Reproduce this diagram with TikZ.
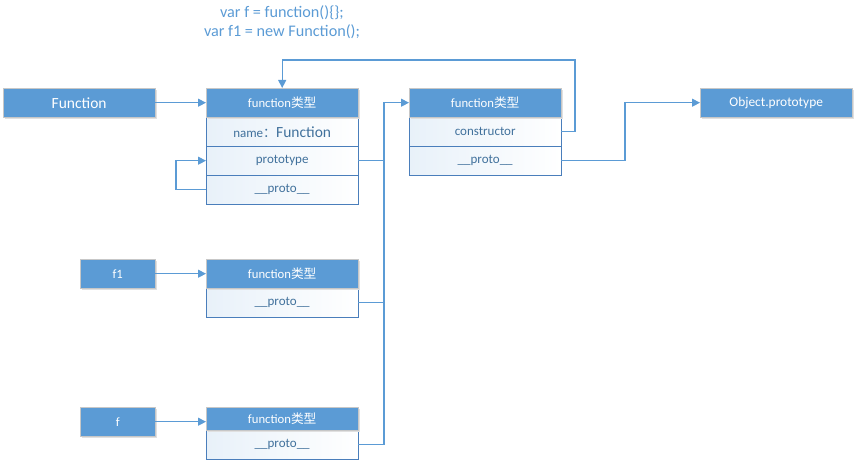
\documentclass[tikz,border=0pt]{standalone}
\usepackage{fontspec}
\setmainfont{Carlito}
\newfontfamily\cjk{Noto Sans CJK SC}
\usetikzlibrary{arrows.meta,shadows}
\definecolor{hdr}{HTML}{5B9BD5}
\definecolor{rowline}{HTML}{4A7EBB}
\definecolor{rowtext}{HTML}{41719C}
\newcommand\ftype{function{\cjk 类型}}
\begin{document}
\begin{tikzpicture}[x=1pt,y=-1pt,
  hbox/.style={draw=black!22, fill=hdr, text=white, minimum width=152pt, minimum height=29pt,
    inner sep=0pt, anchor=north west, font=\fontsize{12.7}{14}\selectfont,
    drop shadow={shadow xshift=1.5pt, shadow yshift=-1.5pt, fill=black!12, opacity=1}},
  lbox/.style={hbox, font=\fontsize{15.5}{17}\selectfont},
  rowbox/.style={draw=rowline, left color=hdr!14, right color=white, text=rowtext,
    minimum width=152pt, minimum height=29pt, inner sep=0pt, anchor=north west,
    font=\fontsize{13}{15}\selectfont},
  conn/.style={draw=hdr, line width=1.2pt, -{Triangle[length=8pt,width=8pt]}},
  plain/.style={draw=hdr, line width=1.2pt},
  code/.style={text=hdr, font=\fontsize{16.2}{18}\selectfont}]
\useasboundingbox (0,0) rectangle (859,465);

\node[code] (c1) at (282,13) {var f = function()\{\};};
\node[code] (c2) at (282,32) {var f1 = new Function();};

% left boxes
\node[lbox] (Fn) at (3,88) {Function};
\node[hbox, minimum width=75pt] (f1) at (80,259) {f1};
\node[hbox, minimum width=75pt] (f) at (80,407) {f};
\node[hbox, font=\fontsize{13.4}{15}\selectfont] (OP) at (700,88) {Object.prototype};

% box A
\node[rowbox] (A1) at (206,117) {name{\cjk ：}{\fontsize{15.5}{17}\selectfont Function}};
\node[rowbox] (A2) at (206,146) {prototype};
\node[rowbox] (A3) at (206,175) {\_\_proto\_\_};
\node[hbox] (A0) at (206,88) {\ftype};

% box B
\node[rowbox] (B1) at (409,117) {constructor};
\node[rowbox] (B2) at (409,146) {\_\_proto\_\_};
\node[hbox] (B0) at (409,88) {\ftype};

% box C
\node[rowbox] (C1) at (206,288) {\_\_proto\_\_};
\node[hbox] (C0) at (206,259) {\ftype};

% box D
\node[rowbox] (D1) at (206,430) {\_\_proto\_\_};
\node[hbox, minimum height=23pt] (D0) at (206,407) {\ftype};

\coordinate (bus) at (384,0);
\coordinate (tl) at (575,60);
\coordinate (j) at (625,0);

\draw[conn] (Fn.east) -- (A0.west);
\draw[conn] (f1.east) -- (C0.west);
\draw[conn] (f.east) -- (f.east -| D0.west);
\draw[conn] (A3.west) -- ++(-30,0) |- (A2.west);
\draw[conn] (B1.east) -| (tl) -| (A0.north);
\draw[conn] (A2.east) -| (bus |- B0.west) -- (B0.west);
\draw[plain] (C1.east) -| (bus |- A2.east);
\draw[plain] (D1.east) -| (bus |- A2.east);
\draw[conn] (B2.east) -| (j |- OP.west) -- (OP.west);
\end{tikzpicture}
\end{document}
